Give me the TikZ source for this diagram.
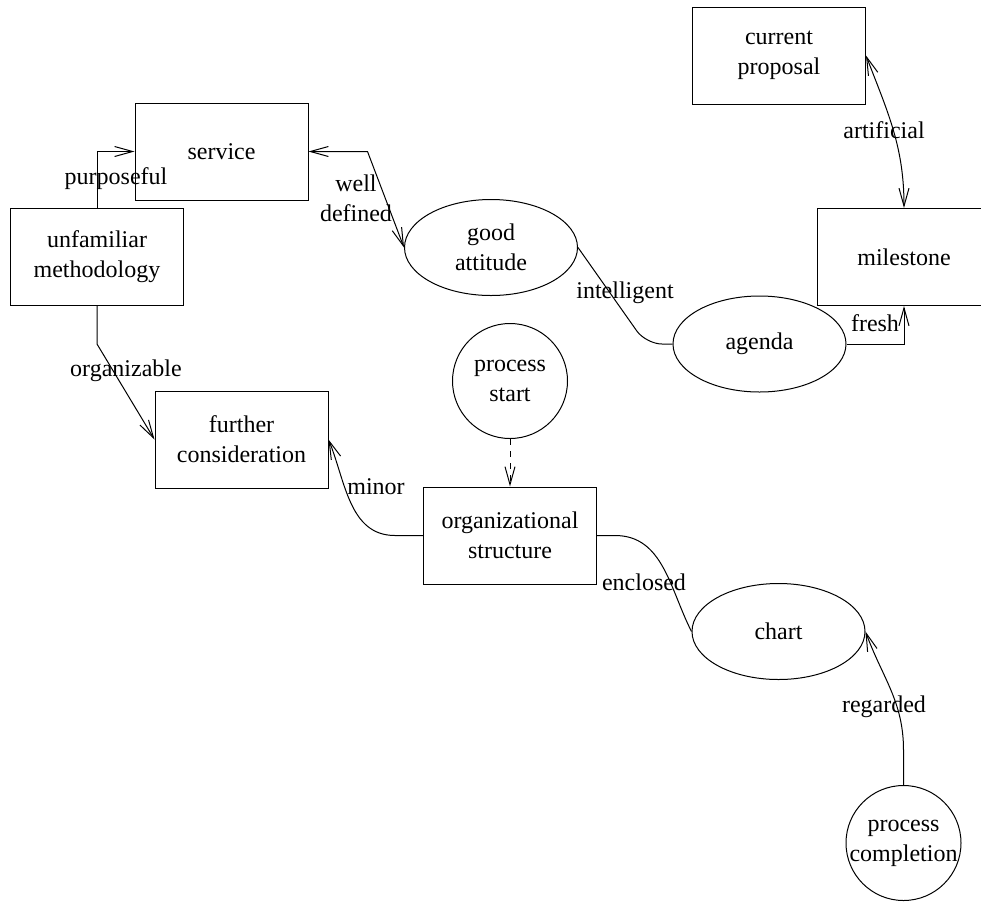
\documentclass[tikz,border=0pt]{standalone}
\usepackage{fontspec}
\setmainfont{Liberation Serif}
\usepackage{tikz}
\usetikzlibrary{shapes,arrows.meta}

\begin{document}
\begin{tikzpicture}[
    x=0.5pt, y=0.5pt,
    every node/.style={font=\fontsize{12pt}{15pt}\selectfont},
    box/.style={rectangle, draw, line width=0.5pt, minimum width=86.5pt, minimum height=48.5pt, inner sep=0pt, align=center},
    oval/.style={ellipse, draw, line width=0.5pt, minimum width=86.5pt, minimum height=48pt, inner sep=0pt, align=center},
    term/.style={circle, draw, line width=0.5pt, minimum size=57.5pt, inner sep=-4pt, align=center},
    lbl/.style={inner sep=0pt, align=center},
    line/.style={line width=0.5pt},
    arrow/.style={line, -{Straight Barb[length=9pt, width=5pt]}},
    biarrow/.style={line, {Straight Barb[length=9pt, width=5pt]}-{Straight Barb[length=9pt, width=5pt]}},
]
\useasboundingbox (0,0) rectangle (981,-901);
\node[box] (cp) at (779,-55.5) {current\\proposal};
\node[box] (sv) at (221.5,-151.5) {service};
\node[box] (um) at (97,-257) {unfamiliar\\methodology};
\node[oval] (ga) at (491,-247.5) {good\\attitude};
\node[box] (ms) at (904,-257) {milestone};
\node[oval] (ag) at (759.5,-344) {agenda};
\node[term] (ps) at (510,-381) {process\\start};
\node[box] (fc) at (241.5,-439.5) {further\\consideration};
\node[box] (os) at (510,-535.5) {organizational\\structure};
\node[oval] (ch) at (778.5,-631.5) {chart};
\node[term] (pc) at (903.5,-843) {process\\completion};
\draw[arrow] (um.north) |- (sv.west) node[lbl] at (116,-179) {purposeful};
\draw[biarrow] (sv.east) -- ++(59,0) -- (ga.west) node[lbl] at (356,-198) {well\\defined};
\draw[line, rounded corners=8pt] (ga.east) -- ++(68,-96.5) -- (ag.west) node[lbl] at (625,-293) {intelligent};
\draw[biarrow] (cp.east) to[out=-69, in=90] (ms.north) node[lbl] at (884,-130) {artificial};
\draw[arrow] (ag.east) -| (ms.south) node[lbl] at (875,-323) {fresh};
\draw[arrow] (um.south) -- ++(0,-38) -- (fc.west) node[lbl] at (126,-371) {organizable};
\draw[arrow, dashed] (ps.south) -- (os.north);
\draw[arrow] (os.west) -- ++(-28,0) to[out=180, in=-68] (fc.east) node[lbl] at (376,-487) {minor};
\draw[line] (os.east) -- ++(18,0) to[out=0, in=117] (ch.west) node[lbl] at (644,-582) {enclosed};
\draw[arrow] (pc.north) -- ++(0,35) to[out=90, in=-70] (ch.east) node[lbl] at (884,-707) {regarded};
\end{tikzpicture}
\end{document}
